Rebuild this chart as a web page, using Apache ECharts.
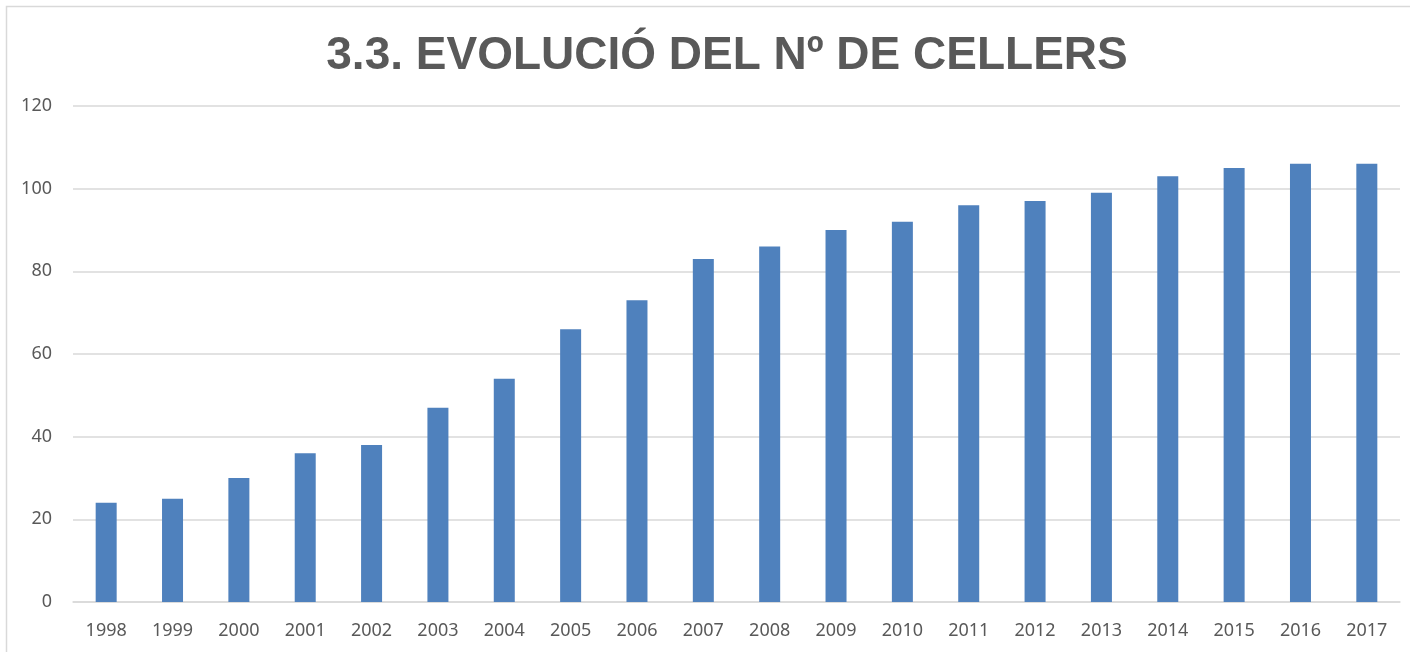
<!DOCTYPE html>
<html>
<head>
<meta charset="utf-8">
<title>3.3. Evolució del nº de cellers</title>
<script src="https://cdn.jsdelivr.net/npm/echarts@6/dist/echarts.min.js"></script>
<style>
  html, body { margin: 0; padding: 0; background: #fff; }
  #chart { width: 1410px; height: 652px; }
</style>
</head>
<body>
<div id="chart"></div>
<script>
// anys i nombre de cellers
var years = ["1998", "1999", "2000", "2001", "2002", "2003", "2004", "2005", "2006", "2007",
             "2008", "2009", "2010", "2011", "2012", "2013", "2014", "2015", "2016", "2017"];
var cellers = [24, 25, 30, 36, 38, 47, 54, 66, 73, 83, 86, 90, 92, 96, 97, 99, 103, 105, 106, 106];

var myChart = echarts.init(document.getElementById("chart"));
var option = {
  animation: false,
  backgroundColor: "#fff",
  title: {
    text: "3.3. EVOLUCIÓ DEL Nº DE CELLERS",
    left: 722,
    top: 28,
    textAlign: "center",
    textStyle: {
      color: "#595959",
      fontFamily: "Liberation Sans",
      fontWeight: "bold",
      fontSize: 46
    }
  },
  graphic: [
    {
      type: "rect",
      shape: { x: 6.5, y: 6.5, width: 1500, height: 700 },
      style: { fill: "none", stroke: "#d9d9d9", lineWidth: 1.5 },
      silent: true
    }
  ],
  grid: {
    left: 73,
    right: 10,
    top: 106,
    bottom: 50
  },
  xAxis: {
    type: "category",
    data: years,
    axisLine: { lineStyle: { color: "#d9d9d9", width: 1.5 } },
    axisTick: { show: false },
    axisLabel: {
      color: "#595959",
      fontFamily: "Noto Sans",
      fontSize: 18,
      margin: 20
    }
  },
  yAxis: {
    type: "value",
    min: 0,
    max: 120,
    interval: 20,
    axisLine: { show: false },
    axisTick: { show: false },
    splitLine: { lineStyle: { color: "#d9d9d9", width: 1.5 } },
    axisLabel: {
      color: "#595959",
      fontFamily: "Noto Sans",
      fontSize: 18,
      margin: 21
    }
  },
  series: [
    {
      type: "bar",
      data: cellers,
      barWidth: 21,
      itemStyle: { color: "#4f81bd" }
    }
  ]
};
myChart.setOption(option);
window.addEventListener("resize", function () {
  myChart.resize();
});
</script>
</body>
</html>
